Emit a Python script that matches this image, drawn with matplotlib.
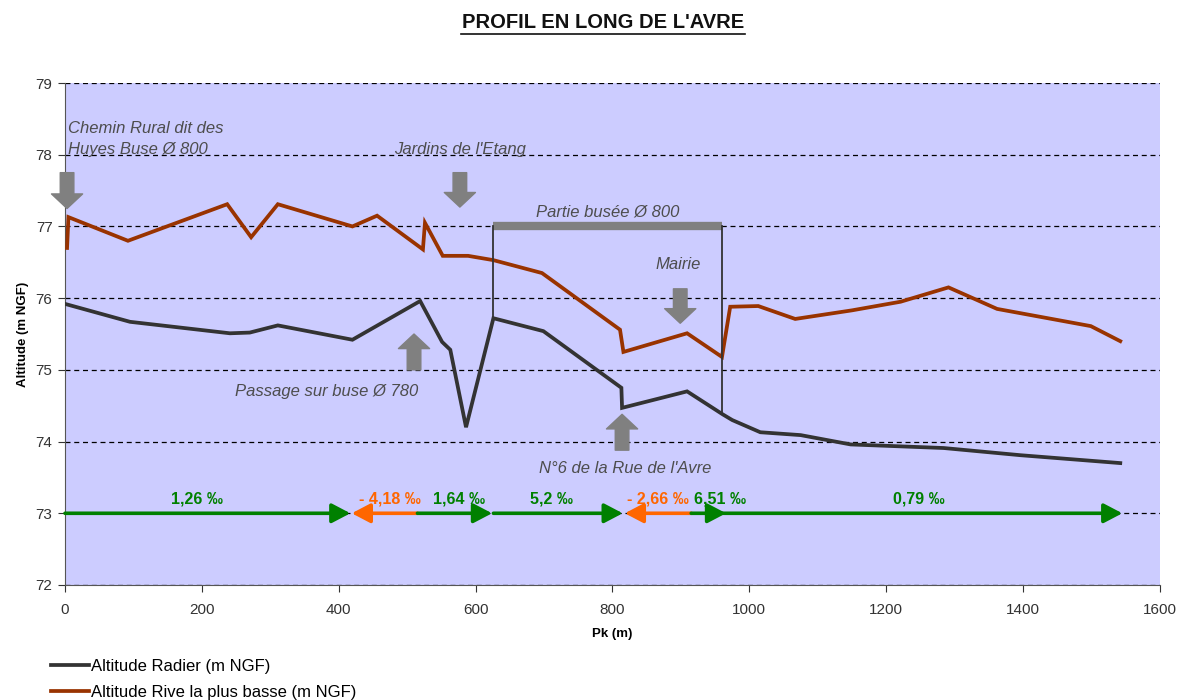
import matplotlib.pyplot as plt

plt.rcParams['font.family'] = ['Liberation Sans', 'DejaVu Sans']

# Profile data (Pk in m, altitude in m NGF)
pk_radier = [0, 95, 241, 270, 311, 420, 519, 551, 563, 586, 626, 699, 813, 814,
             909, 961, 975, 1016, 1075, 1148, 1284, 1396, 1542]
alt_radier = [75.92, 75.67, 75.51, 75.52, 75.62, 75.42, 75.96, 75.39, 75.28, 74.2,
              75.72, 75.54, 74.75, 74.47, 74.70, 74.38, 74.30, 74.13, 74.09, 73.96,
              73.91, 73.81, 73.70]

pk_rive = [3, 5, 92, 237, 272, 311, 420, 456, 523, 526, 552, 589, 626, 697, 811, 816,
           909, 960, 972, 1013, 1067, 1150, 1221, 1291, 1362, 1499, 1542]
alt_rive = [76.7, 77.13, 76.80, 77.31, 76.85, 77.31, 77.0, 77.15, 76.68, 77.05, 76.59,
            76.59, 76.53, 76.35, 75.56, 75.25, 75.51, 75.18, 75.88, 75.89, 75.71,
            75.83, 75.95, 76.15, 75.85, 75.61, 75.40]

# Slope segments at y = 73: (start, end, label, label x)
slope_starts = [0, 515, 515, 626, 915, 915, 962]
slope_ends = [417, 419, 624, 815, 818, 966, 1545]
slope_labels = ['1,26 ‰', '- 4,18 ‰', '1,64 ‰', '5,2 ‰', '- 2,66 ‰', '6,51 ‰', '0,79 ‰']
slope_label_x = [193, 475, 576, 711, 867, 957, 1247]
slope_colors = ['#008000', '#FF6600', '#008000', '#008000', '#FF6600', '#008000', '#008000']

fig = plt.figure(figsize=(11.84, 7.0), dpi=100)
ax = fig.add_axes([0.0549, 0.1643, 0.9248, 0.7171])
ax.set_facecolor('#CCCCFF')

ax.set_xlim(0, 1600)
ax.set_ylim(72, 79)
ax.set_xticks(range(0, 1601, 200))
ax.set_yticks(range(72, 80))
ax.yaxis.grid(True, linestyle=(0, (4, 3)), color='black', linewidth=0.9)
ax.set_axisbelow(True)
for s in ['top', 'right']:
    ax.spines[s].set_visible(False)
for s in ['left', 'bottom']:
    ax.spines[s].set_color('#555555')
ax.tick_params(colors='#333333', labelsize=11, length=5, direction='out')
ax.tick_params(axis='y', pad=4)
ax.tick_params(axis='x', pad=8)

ax.set_ylabel('Altitude (m NGF)', fontsize=9.5, fontweight='bold', labelpad=5)
ax.set_xlabel('Pk (m)', fontsize=9.5, fontweight='bold', labelpad=8)

# Profile lines
ax.plot(pk_radier, alt_radier, color='#333333', lw=2.7, solid_joinstyle='miter',
        label='Altitude Radier (m NGF)', zorder=4)
ax.plot(pk_rive, alt_rive, color='#993300', lw=2.7, solid_joinstyle='miter',
        label='Altitude Rive la plus basse (m NGF)', zorder=4)

# Covered section
ax.plot([626, 960], [77.0, 77.0], color='#808080', lw=6, solid_capstyle='butt', zorder=5)
ax.plot([626, 626], [77.0, 75.72], color='#333333', lw=1.3, zorder=5)
ax.plot([960, 960], [77.0, 74.38], color='#333333', lw=1.3, zorder=5)
ax.text(793, 77.2, 'Partie busée Ø 800', ha='center', va='center', fontsize=12,
        style='italic', color='#4d4d4d')

# Gray location arrows
gray_style = dict(arrowstyle='simple,head_length=0.75,head_width=1.6,tail_width=0.7',
                  mutation_scale=14, color='#808080', shrinkA=0, shrinkB=0)
ax.annotate('', xy=(3, 77.25), xytext=(3, 77.75), arrowprops=gray_style, zorder=6)
ax.annotate('', xy=(577, 77.27), xytext=(577, 77.75), arrowprops=gray_style, zorder=6)
ax.annotate('', xy=(899, 75.65), xytext=(899, 76.13), arrowprops=gray_style, zorder=6)
ax.annotate('', xy=(510, 75.5), xytext=(510, 75.0), arrowprops=gray_style, zorder=6)
ax.annotate('', xy=(814, 74.38), xytext=(814, 73.88), arrowprops=gray_style, zorder=6)

note_kw = dict(fontsize=12, style='italic', color='#4d4d4d')
ax.text(4, 78.22, 'Chemin Rural dit des\nHuyes Buse Ø 800', ha='left', va='center',
        linespacing=1.5, **note_kw)
ax.text(577, 78.07, "Jardins de l'Etang", ha='center', va='center', **note_kw)
ax.text(896, 76.47, 'Mairie', ha='center', va='center', **note_kw)
ax.text(382, 74.7, 'Passage sur buse Ø 780', ha='center', va='center', **note_kw)
ax.text(818, 73.62, "N°6 de la Rue de l'Avre", ha='center', va='center', **note_kw)

# Slope arrows
for x0, x1, lab, lx, c in zip(slope_starts, slope_ends, slope_labels, slope_label_x, slope_colors):
    ax.annotate('', xy=(x1, 73), xytext=(x0, 73),
                arrowprops=dict(arrowstyle='-|>,head_length=0.8,head_width=0.42',
                                mutation_scale=14, color=c, lw=2.6, shrinkA=0, shrinkB=0),
                zorder=6)
    ax.text(lx, 73.2, lab, ha='center', va='center', fontsize=11.5, fontweight='bold', color=c)

fig.text(0.509, 0.968, "PROFIL EN LONG DE L'AVRE", ha='center', va='center',
         fontsize=14.5, fontweight='bold', color='#111111')
fig.add_artist(plt.Line2D([0.389, 0.629], [0.952, 0.952], color='#111111', lw=1.2))

ax.legend(loc='upper left', bbox_to_anchor=(0.0427, 0.059), bbox_transform=fig.transFigure,
          frameon=False, fontsize=12, handlelength=2.3, handletextpad=0.15,
          labelspacing=0.65, borderaxespad=0, borderpad=0)

fig.savefig('out.png', dpi=100)
